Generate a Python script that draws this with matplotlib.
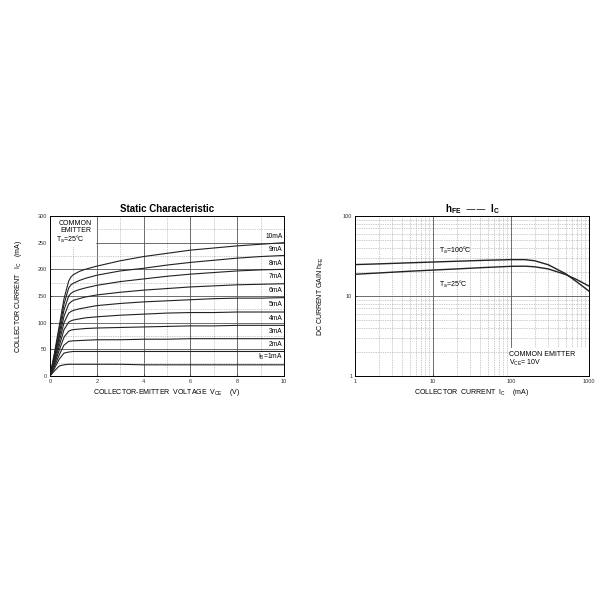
import numpy as np
import matplotlib
matplotlib.use('Agg')
import matplotlib.pyplot as plt
from matplotlib.patches import Rectangle

plt.rcParams['font.family'] = ['Liberation Sans', 'DejaVu Sans']
plt.rcParams['mathtext.default'] = 'regular'

# static characteristic: Vce (V) vs Ic (mA) for each base current
vce = [0, 0.2, 0.4, 0.6, 0.8, 0.9, 1.0, 1.25, 1.5, 2, 3, 4, 5, 6, 7, 8, 9, 10]
ib_labels = ['10mA', '9mA', '8mA', '7mA', '6mA', '5mA', '4mA', '3mA', '2mA', '$I_B$=1mA']
ic_10 = [0, 45, 95, 145, 178, 186, 190, 196, 200, 206, 216, 224, 230, 236, 240, 244, 247, 250]
ic_9 = [0, 42, 88, 135, 165, 171, 174, 179, 183, 189, 197, 202, 208, 213, 217, 221, 224, 226]
ic_8 = [0, 38, 80, 124, 150, 155, 158, 162, 165, 170, 177, 182, 187, 191, 194, 197, 199, 200]
ic_7 = [0, 35, 73, 112, 135, 139, 142, 145, 148, 152, 157, 161, 164, 167, 169, 171, 172, 173]
ic_6 = [0, 31, 65, 100, 118, 121, 123, 126, 128, 132, 136, 139, 141, 143, 145, 146, 146, 147]
ic_5 = [0, 27, 57, 87, 101, 103.5, 105, 107, 109, 111, 114, 116, 118, 119, 119, 120, 120, 120]
ic_4 = [0, 23, 49, 73, 84, 86, 87, 88, 89, 90, 91, 92, 93, 94, 94, 95, 95, 95]
ic_3 = [0, 19, 40, 58, 65, 65.5, 66, 66.5, 67, 68, 68, 69, 69, 70, 70, 70, 70, 70]
ic_2 = [0, 15, 32, 43, 45, 45.5, 46, 46, 46, 46, 46, 46, 46, 46, 46, 46, 46, 46]
ic_1 = [0, 10, 19, 21, 22, 22, 22, 22, 22, 22, 22, 21, 21, 21, 21, 21, 21, 21]
curves = [ic_10, ic_9, ic_8, ic_7, ic_6, ic_5, ic_4, ic_3, ic_2, ic_1]
label_y = [255, 230, 205, 180, 153, 128, 102, 76, 52, 26]

# hFE vs Ic
ic = [1, 2, 5, 10, 20, 50, 100, 150, 200, 300, 500, 700, 1000]
hfe_100 = [24.7, 25.2, 26.0, 26.6, 27.2, 28.0, 28.5, 28.5, 27.6, 24.6, 19.0, 15.0, 11.5]
hfe_25 = [18.7, 19.4, 20.4, 21.1, 21.8, 22.8, 23.5, 23.6, 23.2, 21.8, 18.6, 16.0, 13.3]

fig = plt.figure(figsize=(6, 6), dpi=100)
fs = 4

# ---- left chart
ax = fig.add_axes([0.0833, 0.3733, 0.39, 0.2667])
ax.set_xlim(0, 10)
ax.set_ylim(0, 300)
for x in [2, 4, 6, 8]:
    ax.axvline(x, color='#555555', lw=0.6, zorder=1)
for x in [1, 3, 5, 7, 9]:
    ax.axvline(x, color='#999999', lw=0.5, ls=(0, (1, 1.5)), zorder=1)
for y in [50, 100, 150, 200, 250]:
    ax.axhline(y, color='#555555', lw=0.6, zorder=1)
for y in [25, 75, 125, 175, 225, 275]:
    ax.axhline(y, color='#999999', lw=0.5, ls=(0, (1, 1.5)), zorder=1)
ax.add_patch(Rectangle((0.02, 243), 1.9, 56, color='white', zorder=2))
for c in curves:
    ax.plot(vce, c, color='#222222', lw=0.8, zorder=3)
for lab, y in zip(ib_labels, label_y):
    ax.text(9.95, y, lab, fontsize=4.8, ha='right', va='bottom', zorder=4,
            bbox=dict(facecolor='white', edgecolor='none', pad=0.3))
ax.text(1.1, 292, 'COMMON', fontsize=5, ha='center', va='top', zorder=4)
ax.text(1.1, 279, 'EMITTER', fontsize=5, ha='center', va='top', zorder=4)
ax.text(0.25, 266, '$T_a$=25°C', fontsize=5, ha='left', va='top', zorder=4)
ax.set_xticks([0, 2, 4, 6, 8, 10])
ax.set_yticks([0, 50, 100, 150, 200, 250, 300])
ax.tick_params(labelsize=fs, length=1.5, width=0.5, direction='in', pad=2, colors='#333333')
for s in ax.spines.values():
    s.set_linewidth(0.7)
ax.set_title('Static Characteristic', fontsize=7, fontweight='bold', pad=3)
ax.set_xlabel('COLLECTOR-EMITTER  VOLTAGE  V$_{CE}$    (V)', fontsize=5, labelpad=2)
ax.set_ylabel('COLLECTOR CURRENT   I$_C$   (mA)', fontsize=5, labelpad=10)

# ---- right chart
ax2 = fig.add_axes([0.5917, 0.3733, 0.39, 0.2667])
ax2.set_xscale('log')
ax2.set_yscale('log')
ax2.set_xlim(1, 1000)
ax2.set_ylim(1, 100)
for d in [1, 10, 100]:
    for m in range(2, 10):
        ax2.axvline(d * m, color='#999999', lw=0.5, ls=(0, (1, 1.5)), zorder=1)
for d in [1, 10]:
    for m in range(2, 10):
        ax2.axhline(d * m, color='#999999', lw=0.5, ls=(0, (1, 1.5)), zorder=1)
ax2.axvline(10, color='#555555', lw=0.6, zorder=1)
ax2.axvline(100, color='#555555', lw=0.6, zorder=1)
ax2.axhline(10, color='#555555', lw=0.6, zorder=1)
ax2.add_patch(Rectangle((101, 1.01), 895, 1.2, color='white', zorder=2))
ax2.plot(ic, hfe_100, color='#222222', lw=1.0, zorder=3)
ax2.plot(ic, hfe_25, color='#222222', lw=1.0, zorder=3)
ax2.text(12, 35, '$T_a$=100°C', fontsize=5, zorder=4)
ax2.text(12, 13.2, '$T_a$=25°C', fontsize=5, zorder=4)
ax2.text(95, 1.78, 'COMMON EMITTER', fontsize=5, zorder=4)
ax2.text(95, 1.38, '$V_{CE}$= 10V', fontsize=5, zorder=4)
ax2.set_xticks([1, 10, 100, 1000])
ax2.set_xticklabels(['1', '10', '100', '1000'])
ax2.set_yticks([1, 10, 100])
ax2.set_yticklabels(['1', '10', '100'])
ax2.minorticks_off()
ax2.tick_params(labelsize=fs, length=1.5, width=0.5, direction='in', pad=2, colors='#333333')
for s in ax2.spines.values():
    s.set_linewidth(0.7)
ax2.set_title('h$_{FE}$  ——  I$_C$', fontsize=7, fontweight='bold', pad=3)
ax2.set_xlabel('COLLECTOR  CURRENT  I$_C$    (mA)', fontsize=5, labelpad=2)
ax2.set_ylabel('DC CURRENT GAIN h$_{FE}$', fontsize=5, labelpad=12)

fig.savefig('out.png', dpi=100)
